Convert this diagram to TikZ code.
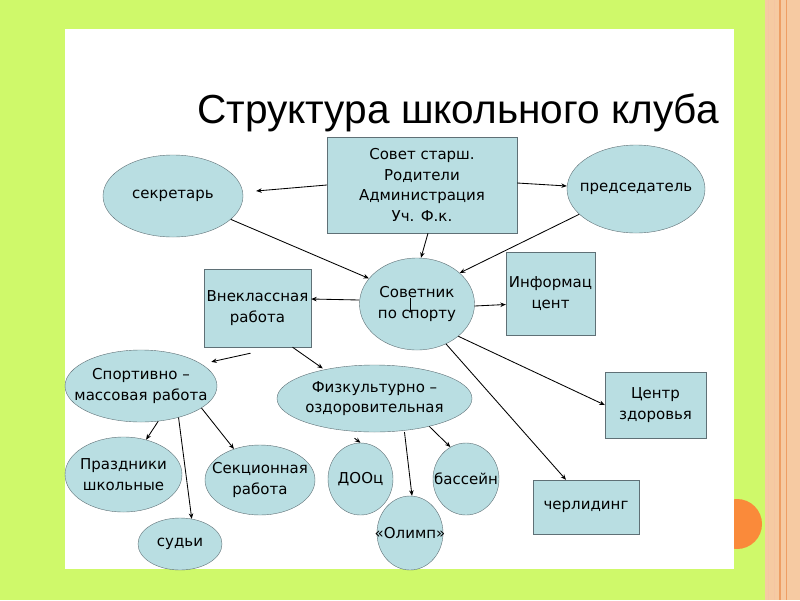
\documentclass[tikz,border=0pt]{standalone}
\usepackage{fontspec}
\setmainfont{DejaVu Sans}
\newfontfamily\titlefont{Liberation Sans}
\usetikzlibrary{shapes.geometric,arrows.meta}

\definecolor{slidegreen}{RGB}{207,249,106}
\definecolor{stripepeach}{RGB}{246,202,162}
\definecolor{stripeline}{RGB}{238,158,100}
\definecolor{dotorange}{RGB}{250,138,58}
\definecolor{clubfill}{RGB}{185,222,226}
\definecolor{clubline}{RGB}{95,112,118}

\begin{document}
\begin{tikzpicture}[x=1pt,y=-1pt,
  every node/.style={font=\fontsize{15}{20.5}\selectfont},
  blob/.style={ellipse,draw=clubline,fill=clubfill,inner xsep=-15pt,inner ysep=-5pt,align=center},
  block/.style={rectangle,draw=clubline,fill=clubfill,inner sep=0pt,align=center},
  link/.style={-{Stealth[length=5.5pt,width=4.5pt]},line width=0.85pt}]

\useasboundingbox (0,0) rectangle (800,600);
\fill[slidegreen] (0,0) rectangle (800,600);
\fill[stripepeach] (765,0) rectangle (800,600);
\draw[stripeline!60,line width=1pt] (768,0) -- (768,600);
\draw[stripeline!60,line width=1pt] (774,0) -- (774,600);
\draw[stripeline,line width=2.5pt] (780,0) -- (780,600);
\draw[stripeline,line width=1pt] (786,0) -- (786,600);
\fill[dotorange] (737,524) circle (25);
\fill[white] (65,29) rectangle (734,569);

\node[font=\titlefont\fontsize{40.6}{44}\selectfont,anchor=base west,inner sep=0pt] (title) at (197,123) {Структура школьного клуба};

\node[block,minimum width=190,minimum height=96] (sovet) at (422,185) {Совет старш.\\Родители\\Администрация\\Уч. Ф.к.};
\node[blob,minimum width=140,minimum height=82] (sekr) at (173,196) {секретарь};
\node[blob,minimum width=138,minimum height=88] (pred) at (636,189) {председатель};
\node[blob,minimum width=115,minimum height=92] (sovetnik) at (417,304) {Советник\\по спорту};
\node[block,minimum width=89,minimum height=83] (info) at (550.5,293.5) {Информац\\цент};
\node[block,minimum width=107,minimum height=78] (vnekl) at (257.5,308) {Внеклассная\\работа};
\node[blob,minimum width=152,minimum height=72] (sportmass) at (141,386) {Спортивно –\\массовая работа};
\node[blob,minimum width=195,minimum height=67] (fizk) at (374.5,398.5) {Физкультурно –\\оздоровительная};
\node[blob,minimum width=117,minimum height=75] (prazd) at (123.5,474.5) {Праздники\\школьные};
\node[blob,minimum width=110,minimum height=70] (sekc) at (260,480) {Секционная\\работа};
\node[blob,minimum width=84,minimum height=52] (sudi) at (180,544) {судьи};
\node[blob,minimum width=65,minimum height=72] (dooc) at (360.5,479) {ДООц};
\node[blob,minimum width=66,minimum height=74] (olimp) at (410,533) {«Олимп»};
\node[blob,minimum width=66,minimum height=72] (bass) at (466,479) {бассейн};
\node[block,minimum width=101,minimum height=66] (centr) at (655.5,405) {Центр\\здоровья};
\node[block,minimum width=106,minimum height=54] (cherl) at (586,507) {черлидинг};

\draw[link] (sovet.west) -- ([xshift=13pt,yshift=5pt]sekr.east);
\draw[link] ([yshift=2pt]sovet.east) -- ([yshift=3pt]pred.west);
\draw[link] ([xshift=6pt]sovet.south) -- ([xshift=4pt]sovetnik.north);
\draw[link] (sekr.-22) -- (sovetnik.152);
\draw[link] (pred.204) -- (sovetnik.36);
\draw[link] ([yshift=4pt]sovetnik.west) -- ([yshift=9pt]vnekl.east);
\draw[link] ([yshift=-2pt]sovetnik.east) -- ([yshift=-11pt]info.west);
\draw[link,-{Stealth[length=3pt,width=3pt]}] ([xshift=-7pt,yshift=6pt]sovetnik.center) -- ++(0,15);
\draw[link,shorten >=10pt] ([xshift=-7pt,yshift=-6pt]vnekl.south) -- (sportmass.20);
\draw[link,shorten >=2pt] ([xshift=35pt]vnekl.south) -- (fizk.150);
\draw[link] (sovetnik.-38) -- (centr.west);
\draw[link] (sovetnik.-54) -- ([xshift=-20pt]cherl.north);
\draw[link] (sportmass.-64) -- (prazd.57);
\draw[link] (sportmass.-40) -- (sudi.65);
\draw[link] (sportmass.-20) -- (sekc.130);
\draw[link] ([xshift=-20pt,yshift=-6pt]fizk.south) -- (dooc.north);
\draw[link] ([xshift=30pt]fizk.south) -- ([xshift=2pt]olimp.north);
\draw[link] (fizk.-27) -- (bass.116);

\end{tikzpicture}
\end{document}
